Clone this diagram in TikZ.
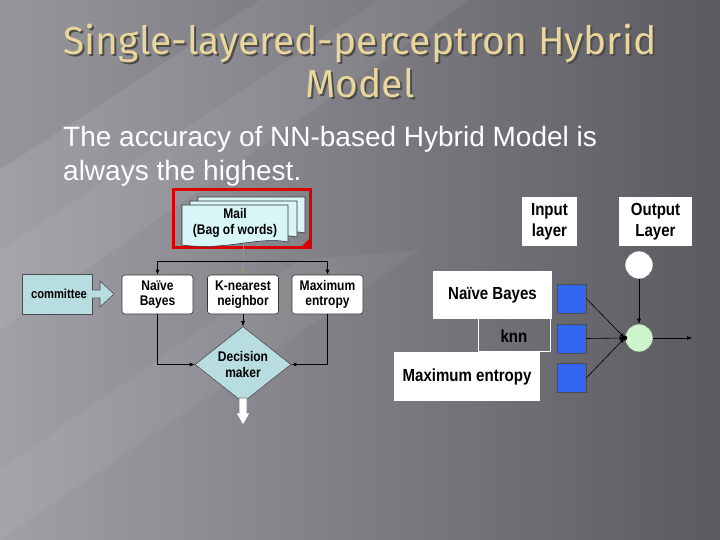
\documentclass[tikz,border=0pt]{standalone}
\usepackage{fontspec}
\setmainfont{Liberation Sans}
\newfontfamily\titlefont{Fira Sans}
\newfontfamily\condfont[FakeStretch=0.86]{Liberation Sans}
\usetikzlibrary{arrows.meta,shapes.geometric,calc}
\definecolor{gold}{HTML}{E8D69C}
\definecolor{paleblue}{HTML}{D8F6F8}
\definecolor{cyanfill}{HTML}{B8DDE0}
\definecolor{nnblue}{HTML}{3366EE}
\definecolor{palegreen}{HTML}{CCF5CC}
\definecolor{olivearrow}{HTML}{A89060}
\definecolor{bgleft}{HTML}{A0A0A6}
\definecolor{bgright}{HTML}{5A5A60}
\newcommand\mydocshape[4]{% x1 y1 x2 y2
  \filldraw[fill=paleblue,draw=black!80,line width=0.6pt]
    (#1,#2) -- (#3,#2) -- (#3,#4-3)
    .. controls ($(#3,#4-3)+(-30,-6)$) and ($(#1,#4)+(45,6)$) .. (#1,#4) -- cycle;}
\begin{document}
\begin{tikzpicture}[x=1pt,y=-1pt,
  arr/.style={-{Latex[length=5pt,width=4pt]},line width=0.6pt,draw=black},
  wbox/.style={draw=black!80,fill=white,rounded corners=3pt,line width=0.6pt,
    inner sep=1pt,align=center,font=\condfont\bfseries\fontsize{14}{15.5}\selectfont},
  rbox/.style={fill=white,inner sep=1pt,align=center,
    font=\condfont\bfseries\fontsize{17.5}{21}\selectfont},
  sq/.style={draw=black!70,fill=nnblue,minimum size=29pt,inner sep=0pt,line width=0.6pt},
  neuron/.style={circle,draw=black!60,minimum size=28pt,inner sep=0pt,line width=0.6pt},
  ttl/.style={font=\titlefont\fontsize{39}{43}\selectfont,align=center}]
\useasboundingbox (0,0) rectangle (720,540);
% background
\shade[left color=bgleft,right color=bgright] (0,0) rectangle (720,540);
\fill[white,opacity=0.06] (0,330) -- (0,250) -- (380,0) -- (470,0) -- cycle;
\fill[white,opacity=0.05] (0,540) -- (0,470) -- (300,260) -- (420,250) -- cycle;
\fill[black,opacity=0.06] (0,0) -- (260,0) -- (0,170) -- cycle;
% title
\node[ttl,text=black!70] (titleshadow) at (362,63.5) {Single-layered-perceptron Hybrid\\Model};
\node[ttl,text=gold] (title) at (360,61) {Single-layered-perceptron Hybrid\\Model};
% body
\node[font=\fontsize{28}{34}\selectfont,text=white,align=left,anchor=north west,inner sep=0pt] (body) at (63,126)
  {The accuracy of NN-based Hybrid Model is\\always the highest.};
% ---------- left diagram ----------
\draw[red!85!black,line width=3pt] (173,190) rectangle (310,247);
\fill[red!85!black] (301,247) -- (310,238) -- (310,247) -- cycle;
\mydocshape{198}{197}{305}{236}
\mydocshape{190}{201}{297}{240}
\mydocshape{182}{205}{288}{245}
\node[font=\condfont\bfseries\fontsize{14}{16}\selectfont,align=center,inner sep=0pt,
  minimum width=105pt,minimum height=38pt] (mail) at (235,223) {Mail\\(Bag of words)};
\node[wbox,minimum width=71pt,minimum height=39pt] (nb) at (157.5,294.5) {Naïve\\Bayes};
\node[wbox,minimum width=71pt,minimum height=39pt] (knn) at (243,294.5) {K-nearest\\neighbor};
\node[wbox,minimum width=71pt,minimum height=39pt] (me) at (327.5,294.5) {Maximum\\entropy};
\node[diamond,draw=black!70,fill=cyanfill,minimum width=96pt,minimum height=65pt,
  inner sep=0pt,line width=0.6pt,align=center,
  font=\condfont\bfseries\fontsize{14}{15.5}\selectfont] (dm) at (243,364.5) {Decision\\maker};
% committee
\node[draw=black!70,fill=cyanfill,minimum width=70pt,minimum height=40pt,inner sep=0pt,
  line width=0.6pt] (comm) at (57.5,294) {};
\filldraw[fill=cyanfill,draw=black!70,line width=0.6pt]
  (92,290) -- (100,290) -- (100,281) -- (114,294) -- (100,307) -- (100,298) -- (92,298);
\node[font=\condfont\bfseries\fontsize{13}{14}\selectfont,inner sep=0pt] (commtxt) at (59,294) {committee};
% connectors
\draw[olivearrow,line width=1pt,-{Latex[length=5pt,width=4pt]}] (mail.south -| knn.north) -- (knn.north);
\coordinate (split) at (243,261);
\draw[arr] (split) -| (nb.north);
\draw[arr] (split) -| (me.north);
\draw[line width=0.6pt] (nb.north |- split) -- (me.north |- split);
\draw[arr] (nb.south) |- (dm.west);
\draw[arr] (me.south) |- (dm.east);
\draw[arr] (knn.south) -- (dm.north);
\filldraw[fill=white,draw=black!50,line width=0.6pt]
  (239,398) -- (247,398) -- (247,413) -- (250,413) -- (243,425) -- (236,413) -- (239,413) -- cycle;
% ---------- right diagram ----------
\node[rbox,minimum width=55pt,minimum height=49pt] (inl) at (549.5,221.5) {Input\\layer};
\node[rbox,minimum width=73pt,minimum height=49pt] (outl) at (655.5,221.5) {Output\\Layer};
\draw[white,line width=1pt] (478,305) rectangle (550,351);
\node[font=\condfont\bfseries\fontsize{17.5}{20}\selectfont,inner sep=0pt] (knn2) at (514,336) {knn};
\node[rbox,minimum width=119pt,minimum height=48pt] (nb2) at (492.5,295) {Naïve Bayes};
\node[rbox,minimum width=146pt,minimum height=49pt] (me2) at (467,376.5) {Maximum entropy};
\node[sq] (s1) at (571.5,298.5) {};
\node[sq] (s2) at (571.5,338.5) {};
\node[sq] (s3) at (571.5,378) {};
\node[neuron,fill=white] (w) at (639,265) {};
\node[neuron,fill=palegreen] (g) at (639,338) {};
\draw[arr] (w) -- (g);
\draw[arr] (s1.east) -- (g.west);
\draw[arr] (s2.east) -- (g.west);
\draw[arr] (s3.east) -- (g.west);
\fill[black] (g.west) circle (2.5pt);
\coordinate (out) at (692,338);
\draw[arr] (g.east) -- (out);
\end{tikzpicture}
\end{document}
